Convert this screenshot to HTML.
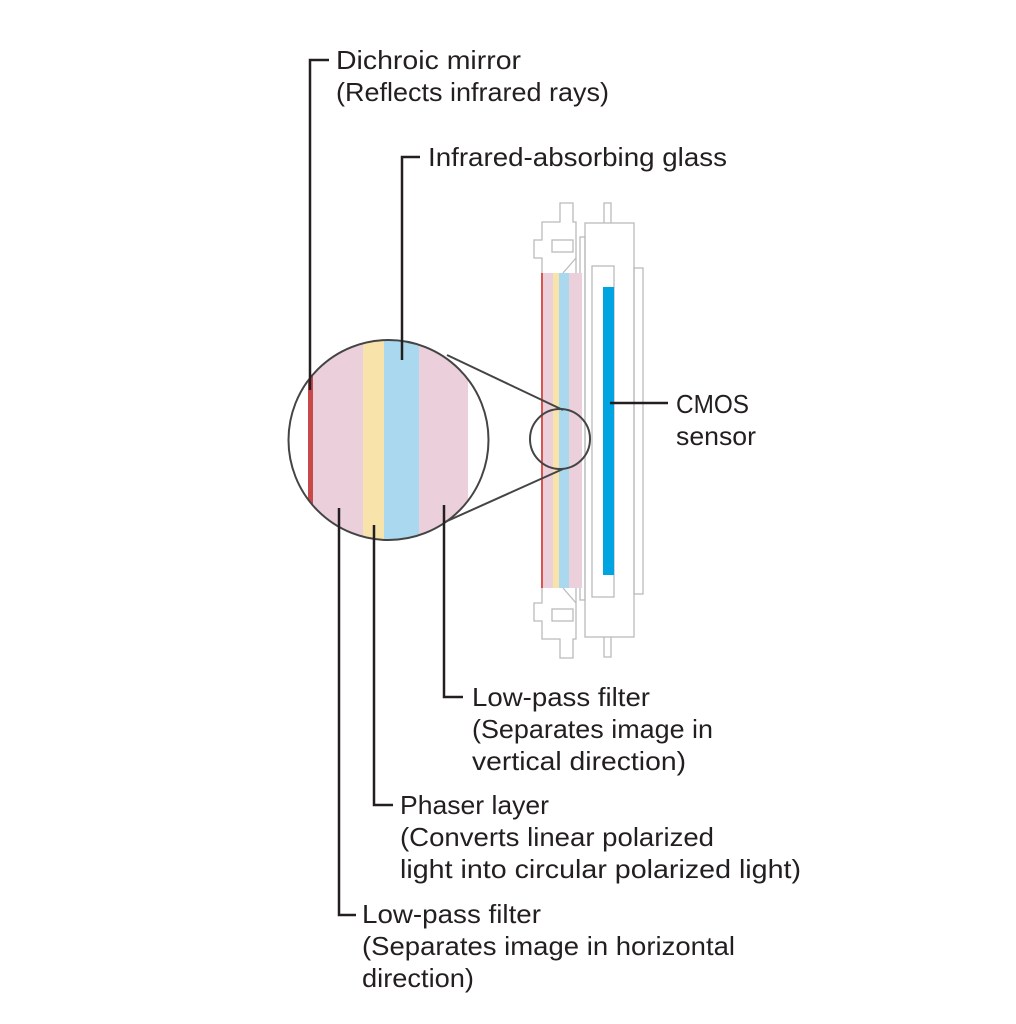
<!DOCTYPE html>
<html><head><meta charset="utf-8"><style>
html,body{margin:0;padding:0;background:#fff}
svg{display:block}
text{font-family:"Liberation Sans",sans-serif;font-size:26px;fill:#231f20}
</style></head><body>
<svg width="1016" height="1024" viewBox="0 0 1016 1024" xmlns="http://www.w3.org/2000/svg">
<defs><clipPath id="bc"><circle cx="388.5" cy="440" r="100"/></clipPath></defs>
<g fill="none" stroke="#bbb" stroke-width="1.3">
 <g id="brk">
  <polyline points="542,273 542,258 534,258 534,240 542,240 542,222 560,222 560,203 573,203 573,222 576,222 576,273"/>
  <rect x="552" y="240" width="21" height="12"/>
  <line x1="563" y1="273" x2="576" y2="258"/>
 </g>
 <use href="#brk" transform="translate(0,861) scale(1,-1)"/>
 <rect x="580" y="237" width="5" height="363"/>
 <rect x="585" y="223" width="49" height="414"/>
 <polyline points="604,223 604,203 611,203 611,223"/>
 <polyline points="604,637 604,657 611,657 611,637"/>
 <rect x="634" y="268" width="9" height="326"/>
 <rect x="592" y="266" width="22" height="331"/>
</g>
<rect x="541" y="273" width="2" height="315" fill="#d9534f"/>
<rect x="543" y="273" width="10" height="315" fill="#ebd0dc"/>
<rect x="553" y="273" width="6" height="315" fill="#f8e4aa"/>
<rect x="559" y="273" width="10" height="315" fill="#aad9ef"/>
<rect x="569" y="273" width="13" height="315" fill="#ebd0dc"/>
<rect x="603" y="287" width="11" height="288" fill="#00a4e0"/>
<g clip-path="url(#bc)">
<rect x="308" y="330" width="5" height="220" fill="#c9494a"/>
<rect x="313" y="330" width="50" height="220" fill="#ebd0dc"/>
<rect x="363" y="330" width="21" height="220" fill="#f8e4aa"/>
<rect x="384" y="330" width="35" height="220" fill="#aad9ef"/>
<rect x="419" y="330" width="49" height="220" fill="#ebd0dc"/>
</g>
<g fill="none" stroke="#444" stroke-width="2">
<circle cx="388.5" cy="440" r="100"/>
<circle cx="560" cy="439" r="30"/>
<line x1="447" y1="355" x2="563" y2="410"/>
<line x1="445" y1="522" x2="563" y2="469"/>
</g>
<g fill="none" stroke="#231f20" stroke-width="2.5">
<polyline points="310,390 310,60 329,60"/>
<polyline points="402,360 402,157 420,157"/>
<line x1="610" y1="403" x2="668" y2="403"/>
<polyline points="444,505 444,697 463,697"/>
<polyline points="374,525 374,805 393,805"/>
<polyline points="339,508 339,915 356,915"/>
</g>
<g lengthAdjust="spacingAndGlyphs">
<text x="336" y="69" textLength="185" lengthAdjust="spacingAndGlyphs">Dichroic mirror</text>
<text x="336" y="101" textLength="273" lengthAdjust="spacingAndGlyphs">(Reflects infrared rays)</text>
<text x="428" y="166" textLength="299" lengthAdjust="spacingAndGlyphs">Infrared-absorbing glass</text>
<text x="676" y="413" textLength="73" lengthAdjust="spacingAndGlyphs">CMOS</text>
<text x="676" y="445" textLength="80" lengthAdjust="spacingAndGlyphs">sensor</text>
<text x="472" y="706" textLength="178" lengthAdjust="spacingAndGlyphs">Low-pass filter</text>
<text x="472" y="738" textLength="241" lengthAdjust="spacingAndGlyphs">(Separates image in</text>
<text x="472" y="770" textLength="214" lengthAdjust="spacingAndGlyphs">vertical direction)</text>
<text x="400" y="814" textLength="149" lengthAdjust="spacingAndGlyphs">Phaser layer</text>
<text x="400" y="846" textLength="314" lengthAdjust="spacingAndGlyphs">(Converts linear polarized</text>
<text x="400" y="878" textLength="401" lengthAdjust="spacingAndGlyphs">light into circular polarized light)</text>
<text x="362" y="923" textLength="179" lengthAdjust="spacingAndGlyphs">Low-pass filter</text>
<text x="362" y="955" textLength="373" lengthAdjust="spacingAndGlyphs">(Separates image in horizontal</text>
<text x="362" y="987" textLength="112" lengthAdjust="spacingAndGlyphs">direction)</text>
</g>
</svg>
</body></html>
